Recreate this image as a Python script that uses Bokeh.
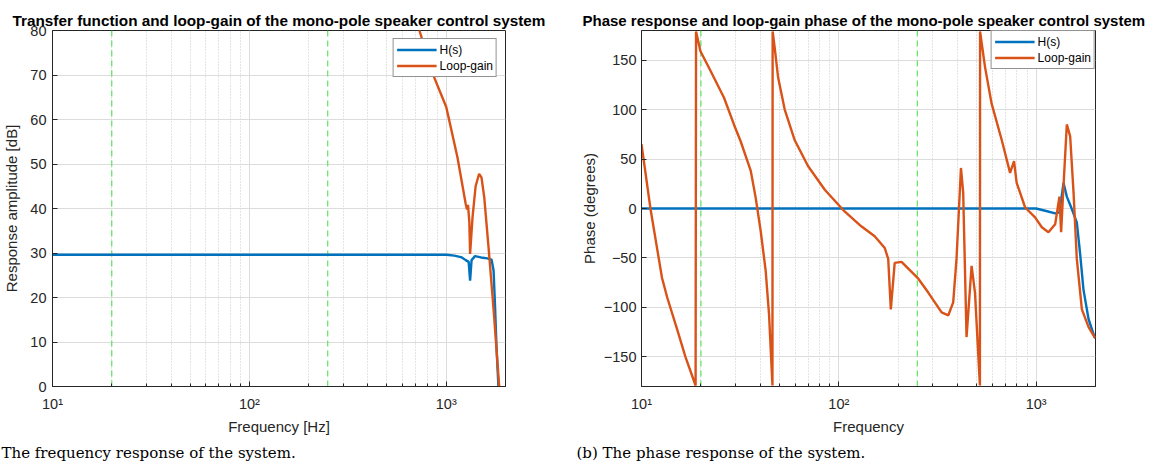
from bokeh.plotting import figure
from bokeh.layouts import row
from bokeh.models import FixedTicker, Span, Range1d, Title
from bokeh.embed import file_html
from bokeh.resources import INLINE

# ---------------- data ----------------
# Magnitude (dB)
mag_h_freq = [10, 100, 1000, 1100, 1200, 1256, 1300, 1322, 1345, 1400, 1500, 1618, 1700, 1740, 1770, 1800, 1850, 1900]
mag_h_db = [29.6, 29.6, 29.6, 29.4, 29.0, 28.4, 28.0, 23.8, 28.4, 29.3, 29.0, 28.8, 28.5, 26.0, 18.0, 9.0, -2.0, -8.0]

mag_l_freq = [600, 731, 853, 1000, 1036, 1140, 1256, 1275, 1290, 1310, 1322, 1360, 1410, 1469, 1510, 1560, 1648, 1747, 1853, 1900]
mag_l_db = [92.0, 80.0, 70.3, 62.8, 59.8, 51.5, 41.0, 39.8, 40.8, 37.0, 29.8, 38.0, 45.0, 47.8, 47.0, 42.5, 30.2, 16.3, 0.7, -6.0]

# Phase (degrees)
ph_h_freq = [10, 1000, 1100, 1249, 1313, 1377, 1431, 1500, 1608, 1670, 1738, 1845, 1978, 2000]
ph_h_deg = [0, 0, -2, -5, -4, 26, 12, 2, -14, -45, -82, -112, -130, -131]

ph_l_freq = [10, 11.1, 12.7, 13.5, 15.2, 16.7, 18.8, 18.9, 19.9, 22.4, 26.2, 29.4, 31.8, 35.8, 37.9,
             40.2, 42.6, 44.3, 46.1, 46.2, 47.3, 49.2, 53.2, 59.8, 69.8, 84.9, 107, 130, 152, 171,
             178, 183.5, 192, 208, 253, 284, 332, 359, 380, 395, 416, 427, 444, 471, 490, 519,
             520, 551, 595, 670, 738, 773, 797, 880, 988, 1069, 1155, 1249, 1313, 1339, 1365,
             1431, 1488, 1548, 1608, 1706, 1845, 1978, 2000]
ph_l_deg = [65, 0, -70, -90, -123, -150, -179, 179, 159, 139, 112, 85, 68, 38, 11,
            -23, -63, -107, -179, 179, 163, 133, 100, 69, 43, 19, -3, -18, -28, -40,
            -51, -102, -55, -54, -71, -85, -105, -108, -95, -51, 41, 16, -130, -58, -85, -179,
            179, 143, 106, 69, 36, 48, 26, 1, -9, -19, -24, -16, 12, -24, 9,
            85, 73, 16, -51, -102, -120, -130, -131]

markers = [20, 250]

x_major = [10, 100, 1000]
x_minor = [20, 30, 40, 50, 60, 70, 80, 90, 200, 300, 400, 500, 600, 700, 800, 900, 2000]
x_labels = {10: "10\u00b9", 100: "10\u00b2", 1000: "10\u00b3"}
mag_ticks = [0, 10, 20, 30, 40, 50, 60, 70, 80]
ph_ticks = [-150, -100, -50, 0, 50, 100, 150]

titles = ["Transfer function and loop-gain of the mono-pole speaker control system",
          "Phase response and loop-gain phase of the mono-pole speaker control system"]
ylabels = ["Response amplitude [dB]", "Phase (degrees)"]
xlabels = ["Frequency [Hz]", "Frequency"]
captions = ["The frequency response of the system.", "(b) The phase response of the system."]

BLUE = "#0072BD"
ORANGE = "#D95319"
GREEN = "#5fe35f"
AX = "#262626"
FONT = "Liberation Sans"


def make_fig(idx, yr, yticks, left_border, lab_standoff, ax_standoff):
    p = figure(width=576, height=468, x_axis_type="log", output_backend="svg",
               toolbar_location=None, x_range=Range1d(10, 2000), y_range=Range1d(*yr),
               min_border_left=left_border, min_border_right=576 - left_border - 454,
               min_border_top=30, min_border_bottom=82)
    p.background_fill_color = "white"
    p.border_fill_color = "white"
    p.outline_line_color = AX
    p.outline_line_width = 1

    p.title.text = titles[idx]
    p.title.text_font = FONT
    p.title.text_font_style = "bold"
    p.title.text_color = "black"
    p.title.standoff = 3
    if idx == 0:
        p.title.text_font_size = "15.3px"
        p.title.align = "center"
    else:
        p.title.text_font_size = "15px"
        p.title.align = "left"
        p.title.offset = -59

    xt = FixedTicker(ticks=x_major, minor_ticks=x_minor)
    p.xaxis.ticker = xt
    p.xgrid.ticker = xt
    p.xaxis.major_label_overrides = x_labels
    p.yaxis.ticker = FixedTicker(ticks=yticks)
    p.ygrid.ticker = FixedTicker(ticks=yticks)

    for ax in (p.xaxis, p.yaxis):
        ax.axis_line_color = AX
        ax.major_tick_line_color = AX
        ax.minor_tick_line_color = AX
        ax.major_tick_in = 5
        ax.major_tick_out = 0
        ax.minor_tick_in = 3
        ax.minor_tick_out = 0
        ax.major_label_text_font = FONT
        ax.major_label_text_font_size = "14.5px"
        ax.major_label_text_color = AX
        ax.axis_label_text_font = FONT
        ax.axis_label_text_font_size = "15px"
        ax.axis_label_text_font_style = "normal"
        ax.axis_label_text_color = AX
    p.yaxis.minor_tick_line_color = None
    p.xaxis.axis_label = xlabels[idx]
    p.yaxis.axis_label = ylabels[idx]
    p.xaxis.major_label_standoff = 9
    p.xaxis.axis_label_standoff = 3
    p.yaxis.major_label_standoff = lab_standoff
    p.yaxis.axis_label_standoff = ax_standoff

    p.xgrid.grid_line_color = "#dcdcdc"
    p.ygrid.grid_line_color = "#dcdcdc"
    p.xgrid.minor_grid_line_color = "#c8c8c8"
    p.xgrid.minor_grid_line_dash = "1 2"

    for m in markers:
        p.add_layout(Span(location=m, dimension="height", line_color=GREEN,
                          line_dash="6 4", line_width=1.2, level="underlay"))

    cap = Title(text=captions[idx], align="left", offset=-left_border,
                text_font="DejaVu Serif", text_font_size="15px", text_font_style="normal",
                text_color="black", standoff=9)
    p.add_layout(cap, "below")
    return p


p1 = make_fig(0, (0, 80), mag_ticks, 51, 6, 7)
p1.line(mag_h_freq, mag_h_db, line_color=BLUE, line_width=2.4, legend_label="H(s)")
p1.line(mag_l_freq, mag_l_db, line_color=ORANGE, line_width=2.4, legend_label="Loop-gain")

p2 = make_fig(1, (-180, 180), ph_ticks, 65, 5, 3)
p2.line(ph_h_freq, ph_h_deg, line_color=BLUE, line_width=2.4, legend_label="H(s)")
p2.line(ph_l_freq, ph_l_deg, line_color=ORANGE, line_width=2.4, legend_label="Loop-gain")

for p, mg in ((p1, 8), (p2, 0)):
    lg = p.legend[0]
    lg.location = "top_right"
    lg.margin = mg
    lg.border_line_color = AX
    lg.border_line_width = 1
    lg.background_fill_color = "white"
    lg.background_fill_alpha = 1
    lg.label_text_font = FONT
    lg.label_text_font_size = "12px"
    lg.label_text_color = "black"
    lg.glyph_width = 40
    lg.glyph_height = 15
    lg.label_height = 15
    lg.label_standoff = 3
    lg.spacing = 1
    lg.padding = 3

layout = row(p1, p2)
open("out.html", "w").write(file_html(layout, INLINE))
